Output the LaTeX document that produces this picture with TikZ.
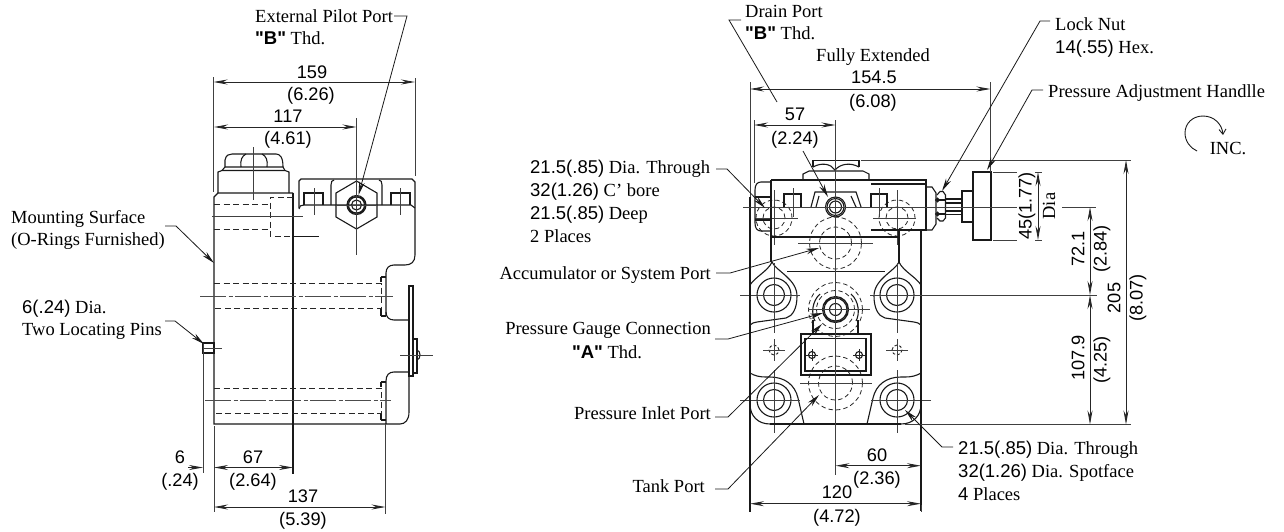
\documentclass[tikz,border=0pt]{standalone}
\usepackage{fontspec}
\setmainfont{Liberation Serif}
\newfontfamily\numf{Liberation Sans}
\usetikzlibrary{arrows.meta}
\tikzset{
 txt/.style={inner sep=0pt,font=\fontsize{18.5}{20}\selectfont,text=black},
 num/.style={inner sep=0pt,font=\numf\fontsize{18.2}{20}\selectfont,text=black},
 wl/.style={anchor=base west},
 el/.style={anchor=base east},
 cl/.style={anchor=base},
 part/.style={line width=1.1pt,black!90},
 thin part/.style={line width=.9pt,black!85},
 hid/.style={line width=.9pt,black!85,dash pattern=on 6pt off 3.5pt},
 hidc/.style={line width=.8pt,black!85,dash pattern=on 4.5pt off 3pt},
 axisl/.style={line width=.9pt,black!75},
 chain/.style={line width=.9pt,black!70,dash pattern=on 26pt off 2.5pt on 4pt off 2.5pt},
 ext/.style={line width=.9pt,black!75},
 dim/.style={line width=.9pt,black!85,{Stealth[length=14pt,width=5pt]}-{Stealth[length=14pt,width=5pt]}},
 leader/.style={line width=.8pt,black!90,-{Stealth[length=13pt,width=5.5pt]}},
 plainl/.style={line width=.8pt,black!90},
}
\newcommand{\halfbody}{%
 % upper boss with teardrop
 \draw[part] (750,285) .. controls (755,277) and (768,271) .. (772,262) .. controls (776,271) and (797,279) .. (797,296) .. controls (797,308) and (793,316) .. (786,318) -- (757,322) .. controls (754,322.5) and (752,323) .. (750,325);
 \draw[part] (774,295) circle[radius=17pt] (774,295) circle[radius=10.5pt];
 \draw[axisl] (740,295) -- (800,295) (774,263) -- (774,333);
 % lower boss
 \draw[part] (750,373) .. controls (755,376) and (760,377) .. (766,377) -- (770,377) .. controls (785,377) and (795,385) .. (798,398) -- (804,424);
 \draw[part] (750,404) .. controls (750,416) and (758,424) .. (770,424);
 \draw[part] (774,400) circle[radius=17pt] (774,400) circle[radius=10.5pt];
 \draw[axisl] (740,400) -- (800,400) (774,370) -- (774,433);
 % mounting screw mark
 \draw[thin part,densely dashed] (774,350) circle[radius=5pt];
 \draw[axisl] (763,350) -- (785,350) (774,339) -- (774,361);
 % port in top plate
 \draw[hidc] (774,218) circle[radius=18pt] (774,218) circle[radius=11pt];
 \draw[axisl] (755,218) -- (798,218);
 \draw[axisl] (774,190) -- (774,245);
}
\begin{document}
\begin{tikzpicture}[x=1pt,y=-1pt]
\useasboundingbox (0,0) rectangle (1284,531);
% ============ LEFT VIEW ============
% body
\draw[part] (293,193) -- (218,193) -- (214,197) -- (214,424) -- (400,424) .. controls (405,424) and (409,420) .. (409,412) -- (409,372) -- (394,372) .. controls (389,372) and (386,375) .. (386,381) -- (386,424);
\draw[part] (386,316) -- (386,273) .. controls (386,268) and (389,265) .. (394,265) -- (405,265) .. controls (411,265) and (415,262) .. (415,255) -- (415,182) -- (412,179) -- (301,179) -- (299,181) -- (299,208);
\draw[part] (386,312) .. controls (386,317) and (389,320) .. (394,320) -- (409,320) -- (409,372);
\draw[part] (299,209) .. controls (299,206) and (301,205) .. (304,205) -- (411,205) -- (415,208);
\draw[part] (293,193) -- (293,474);
\draw[part] (293,236.5) -- (319,236.5);
% cap
\draw[part] (225,167) -- (225,160) .. controls (226,155) and (229,154) .. (232,154) -- (276,154) .. controls (280,154) and (283,157) .. (283,167);
\draw[part] (241,167) .. controls (240,160) and (242,156) .. (246,154) (267,167) .. controls (268,160) and (266,156) .. (262,154);
\draw[part] (218,193) -- (218,172) -- (222,170.5) -- (285,170.5) -- (289,172) -- (289,193);
\draw[part] (225,167) -- (283,167) (225,167) -- (222,170.5) (283,167) -- (285,170.5);
\draw[axisl] (253.5,147) -- (253.5,200);
% hidden lines, top
\draw[hid] (214,204) -- (270,204) (214,229) -- (270,229);
\draw[hid] (293,197) -- (270,197) -- (270,236) -- (293,236);
\draw[axisl] (212,216.5) -- (303,216.5);
% hex and circles
\draw[part] (356.5,181) -- (377,193) -- (377,217) -- (356.5,229) -- (336,217) -- (336,193) -- cycle;
\draw[part] (356.5,205) circle[radius=9.5pt] (356.5,205) circle[radius=8pt] (356.5,205) circle[radius=5pt];
\draw[part] (331,205) -- (331,185) .. controls (331,182) and (332,180) .. (334,180);
\draw[part] (382,205) -- (382,185) .. controls (382,182) and (381,180) .. (379,180);
\draw[axisl] (356.5,118) -- (356.5,255) (336,205) -- (377,205);
% bolts
\draw[part] (304,205) -- (304,193) -- (323,193) -- (323,205) (391,205) -- (391,193) -- (410,193) -- (410,205);
\draw[axisl] (314,188) -- (314,215) (400,188) -- (400,215);
% ends
\draw[part] (409,286) rectangle (413,376);
\draw[part] (413,339) rectangle (417,373);
\draw[part] (417,350) .. controls (421,351) and (421,359) .. (417,360);
\draw[axisl] (400,355) -- (433,355);
% hidden lines, through holes
\draw[hid] (214,283.5) -- (381,283.5) -- (381,308) -- (214,308);
\draw[hid] (214,388) -- (381,388) -- (381,413) -- (214,413);
\draw[part] (381,277) -- (386,277) (381,277) -- (381,282) (381,316) -- (386,316) (381,309) -- (381,316);
\draw[part] (381,382) -- (386,382) (381,382) -- (381,387) (381,420) -- (386,420) (381,414) -- (381,420);
\draw[chain] (200,296) -- (393,296);
\draw[chain] (205,400) -- (391,400);
% pin
\draw[part] (203,343) rectangle (214,353);
\draw[axisl] (203,348) -- (222,348);
% ext lines & dims
\draw[ext] (213.5,77) -- (213.5,192) (415,78) -- (415,176);
\draw[ext] (203,343) -- (203,473) (214,426) -- (214,512) (385.5,424) -- (385.5,514);
\draw[dim] (213.5,82) -- (415,82);
\draw[dim] (214,127) -- (356.5,127);
\draw[dim] (214,467.5) -- (293,467.5);
\draw[dim] (214,507) -- (385.5,507);
\draw[line width=.9pt,black!85,-{Stealth[length=14pt,width=5pt]}] (188,467.5) -- (203,467.5);
\node[num,cl] (d159) at (312,78) {159};
\node[num,cl] (d626) at (311,100.5) {(6.26)};
\node[num,cl] (d117) at (288,122) {117};
\node[num,cl] (d461) at (288,144) {(4.61)};
\node[num,cl] (d6) at (180,463) {6};
\node[num,cl] (d24) at (180,486) {(.24)};
\node[num,cl] (d67) at (253,463) {67};
\node[num,cl] (d264) at (253,486) {(2.64)};
\node[num,cl] (d137) at (303,502) {137};
\node[num,cl] (d539) at (303,525) {(5.39)};
% labels left view
\node[txt,wl] (pilot) at (255,22) {External Pilot Port};
\node[txt,wl] (pilotb) at (255,44) {{\numf\bfseries "B"} Thd.};
\node[txt,wl] (mount) at (11,223) {Mounting Surface};
\node[txt,wl] (mountb) at (11,245) {(O-Rings Furnished)};
\node[txt,wl] (pins) at (22,313) {{\numf 6(.24)} Dia.};
\node[txt,wl] (pinsb) at (22,335) {Two Locating Pins};
\coordinate (tPilot) at (358.5,195);
\coordinate (tMount) at (214,263);
\coordinate (tPin) at (204,344);
\draw[leader] (394,16) -- (407,16) -- (tPilot);
\draw[leader] (165,321) -- (175,321) -- (tPin);
\draw[leader] (165,226) -- (176,226) -- (tMount);
% ============ RIGHT VIEW ============
\halfbody
\begin{scope}[xshift=1671pt,xscale=-1]\halfbody\end{scope}
% plate
\draw[part] (750,197) -- (750,512);
\draw[part] (921,230) -- (921,511);
\draw[part] (770,424) -- (901,424);
\draw[part] (771,180) -- (926,180) -- (926,230) -- (871,230);
\draw[part] (871,184) -- (926,184);
\draw[part] (771,180) -- (771,262);
\draw[part] (899,230) -- (899,262);
\draw[part] (771,237) -- (899,237);
\draw[part] (787,271.5) -- (885,271.5);
\draw[part] (771,207.5) -- (801,207.5) (871,207.5) -- (926,207.5);
% cap
\draw[part] (813,167) -- (813,160.5) -- (859,160.5) -- (859,167);
\draw[part] (813,167) .. controls (822,162) and (831,164) .. (835,170) .. controls (840,164) and (850,162) .. (859,167);
\draw[part] (803,180) -- (803,174) -- (809,171) -- (863,171) -- (869,174) -- (869,180);
% hump
\draw[part] (811,207) -- (815,192) -- (856,192) -- (861,207);
\draw[part] (816,207) -- (819,196) (851,196) -- (856,207);
\draw[part,fill=white] (835.5,207) circle[radius=10pt];
\draw[part] (835.5,207) circle[radius=8.5pt] (835.5,207) circle[radius=6pt];
% bolts
\draw[part] (784,207) -- (784,194) -- (801,194) -- (801,207) (871,207) -- (871,194) -- (887,194) -- (887,207);
\draw[axisl] (793,188) -- (793,217) (879,188) -- (879,217);
% nut left
\draw[part] (771,182) -- (761,182) .. controls (757,182) and (755,185) .. (755,190) -- (755,223) .. controls (755,228) and (757,231) .. (761,231) -- (771,231);
\draw[part] (755,197) -- (771,197) (755,220) -- (771,220);
\draw[axisl] (743,207) -- (771,207);
% nuts right, rod and handle
\draw[part] (926,187) -- (932,187) -- (936,193) -- (936,224) -- (932,230) -- (926,230);
\draw[part] (937,195) -- (940,191.5) -- (943,191.5) -- (945.5,195) -- (945.5,218) -- (943,221) -- (940,221) -- (937,218);
\draw[part] (937,200) -- (945.5,200) (937,214) -- (945.5,214);
\draw[part] (937.5,200) circle[radius=1.8pt] (937.5,214) circle[radius=1.8pt];
\draw[part] (945.5,199) -- (962,199) (945.5,203) -- (962,203) (945.5,211) -- (962,211) (945.5,214.5) -- (962,214.5);
\draw[part] (973,191) -- (962,191) -- (962,222) -- (973,222);
\draw[part] (973,172) rectangle (991,240);
% ports
\draw[hidc] (835.5,243) circle[radius=26pt] (835.5,243) circle[radius=16pt];
\draw[hidc] (835.5,383) circle[radius=27pt] (835.5,383) circle[radius=17pt];
\draw[axisl] (798,243) -- (873,243);
\draw[axisl] (800,383) -- (872,383);
% gauge
\draw[hidc] (835.5,309.5) circle[radius=27pt];
\draw[part] (813,320) -- (813,333) (858,320) -- (858,333);
\draw[part] (820,294) .. controls (812,301) and (811,314) .. (815,321);
\draw[part] (851,294) .. controls (859,301) and (860,314) .. (856,321);
\draw[part] (835.5,309.5) circle[radius=13pt] (835.5,309.5) circle[radius=11.5pt] (835.5,309.5) circle[radius=6pt];
\draw[hidc] (835.5,309.5) circle[radius=19pt];
\draw[axisl] (808,309.5) -- (870,309.5);
% gauge box
\draw[part] (801,334) rectangle (871,375);
\draw[part] (805,338.5) rectangle (866,371);
\draw[part] (812,355) circle[radius=3.5pt] (859,355) circle[radius=3.5pt];
\draw[thin part] (806,355) -- (818,355) (812,349) -- (812,361) (853,355) -- (865,355) (859,349) -- (859,361);
% centre lines and ext
\draw[axisl,line width=.9pt] (835.5,120) -- (835.5,475);
\draw[axisl] (870,295) -- (1097,295);
\draw[axisl] (743,207) -- (1017,207) (1062,207) -- (1096,207);
\draw[ext] (750,82) -- (750,197) (990.5,82) -- (990.5,172) (754,120) -- (754,183);
\draw[ext] (861,160) -- (1131,160) (905,424.5) -- (1131,424.5);
\draw[ext] (993,172) -- (1017,172) (1035,172) -- (1042,172) (993,240) -- (1017,240) (1035,240) -- (1042,240);
\draw[ext] (921,505) -- (921,512);
\draw[dim] (750,89) -- (990.5,89);
\draw[dim] (754,125) -- (835.5,125);
\draw[dim] (835.5,465.7) -- (921,465.7);
\draw[dim] (750,503.7) -- (921,503.7);
\draw[dim] (1038,172) -- (1038,240);
\draw[dim] (1090,207) -- (1090,295);
\draw[dim] (1090,295) -- (1090,424.5);
\draw[dim] (1126,160) -- (1126,424.5);
% dim text
\node[txt,cl] (full) at (873,61) {Fully Extended};
\node[num,cl] (d1545) at (874,83.5) {154.5};
\node[num,cl] (d608) at (873,107) {(6.08)};
\node[num,cl] (d57) at (795,120) {57};
\node[num,cl] (d224) at (795,144) {(2.24)};
\node[num,cl] (d60) at (877,461) {60};
\node[num,cl] (d236) at (877,484) {(2.36)};
\node[num,cl] (d120) at (837,498) {120};
\node[num,cl] (d472) at (837,522) {(4.72)};
\node[num,rotate=90] (d45) at (1027,206) {45(1.77)};
\node[txt,rotate=90] (ddia) at (1049,206) {Dia};
\node[num,rotate=90] (d721) at (1078,249) {72.1};
\node[num,rotate=90] (d284) at (1102,249) {(2.84)};
\node[num,rotate=90] (d1079) at (1078,358) {107.9};
\node[num,rotate=90] (d425) at (1102,360) {(4.25)};
\node[num,rotate=90] (d205) at (1114,298) {205};
\node[num,rotate=90] (d807) at (1138,298) {(8.07)};
% labels
\node[txt,wl] (drain) at (745,17) {Drain Port};
\node[txt,wl] (drainb) at (745,39) {{\numf\bfseries "B"} Thd.};
\node[txt,wl] (lock) at (1055,30.5) {Lock Nut};
\node[txt,wl] (lockb) at (1055,53) {{\numf 14(.55)} Hex.};
\node[txt,wl] (handle) at (1048,97) {Pressure Adjustment Handlle};
\node[txt,cl] (inc) at (1228,154) {INC.};
\node[txt,wl] (cb1) at (530,173) {{\numf 21.5(.85)} Dia. Through};
\node[txt,wl] (cb2) at (530,196) {{\numf 32(1.26)} C' bore};
\node[txt,wl] (cb3) at (530,219) {{\numf 21.5(.85)} Deep};
\node[txt,wl] (cb4) at (530,242) {2 Places};
\node[txt,el] (acc) at (711,279) {Accumulator or System Port};
\node[txt,el] (gauge) at (711,334) {Pressure Gauge Connection};
\node[txt,cl] (gaugeb) at (607,358) {{\numf\bfseries "A"} Thd.};
\node[txt,el] (inlet) at (711,419) {Pressure Inlet Port};
\node[txt,el] (tank) at (705,492) {Tank Port};
\node[txt,wl] (sf1) at (958,454) {{\numf 21.5(.85)} Dia. Through};
\node[txt,wl] (sf2) at (958,477) {{\numf 32(1.26)} Dia. Spotface};
\node[txt,wl] (sf3) at (958,500) {{\numf 4} Places};
% leaders
\coordinate (tDrain) at (828,197);
\coordinate (tLock) at (942,191);
\coordinate (tHandle) at (987,170);
\coordinate (tCb) at (765,208);
\coordinate (tAcc) at (819,248);
\coordinate (tGauge) at (823,313);
\coordinate (tInlet) at (822,324);
\coordinate (tTank) at (819,395);
\coordinate (tSf) at (905,410);
\draw[plainl] (741,20) -- (729,20) -- (777,102);
\draw[leader] (803,151) -- (tDrain);
\draw[leader] (1050,21) -- (1040,21) -- (tLock);
\draw[leader] (1043,90) -- (1032,90) -- (tHandle);
\draw[leader] (716,169) -- (727,169) -- (tCb);
\draw[leader] (716,273) -- (730,273) -- (tAcc);
\draw[leader] (715,339) -- (728,339) -- (tGauge);
\draw[leader] (715,417) -- (728,417) -- (tInlet);
\draw[leader] (715,489) -- (728,489) -- (tTank);
\draw[leader] (953,447) -- (942,447) -- (tSf);
% INC arrow
\draw[line width=.9pt,black!90,-{Straight Barb[length=5pt,width=7pt]}] (1197,151) .. controls (1190,148) and (1185,141) .. (1185,133) .. controls (1185,123) and (1193,116) .. (1203,116) .. controls (1214,116) and (1222,124) .. (1223,135);
\end{tikzpicture}
\end{document}
